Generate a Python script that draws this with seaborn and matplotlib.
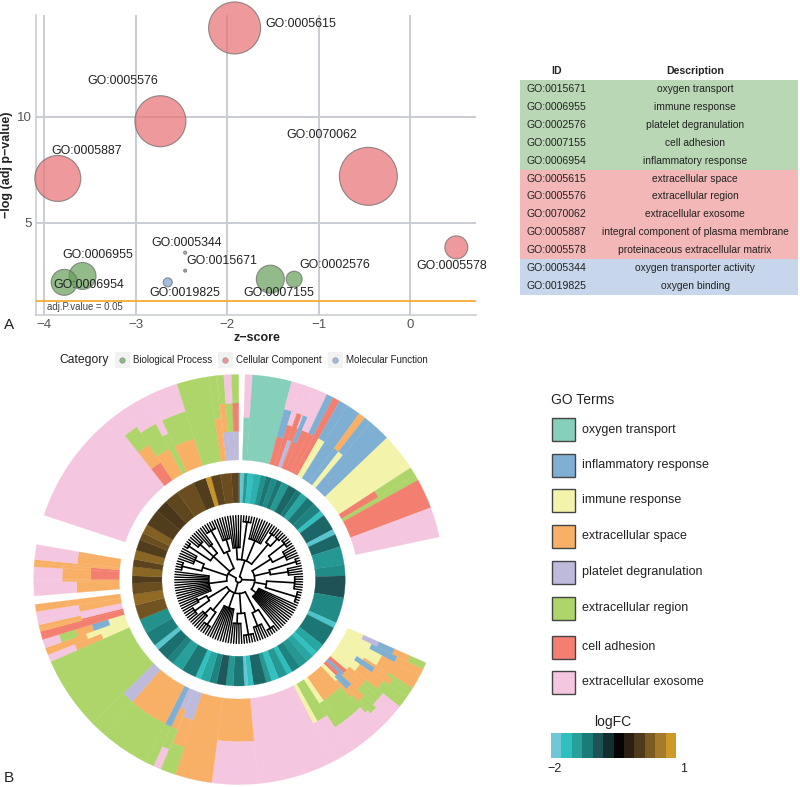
import numpy as np
import pandas as pd
import matplotlib
matplotlib.use("Agg")
import matplotlib.pyplot as plt
from matplotlib.colors import LinearSegmentedColormap, Normalize
from matplotlib.patches import Rectangle
import seaborn as sns

# panel A bubbles
go_ids = ["GO:0005615", "GO:0005576", "GO:0005887", "GO:0070062", "GO:0005578", "GO:0006955",
          "GO:0006954", "GO:0005344", "GO:0015671", "GO:0019825", "GO:0007155", "GO:0002576"]
zscore = [-1.92, -2.73, -3.85, -0.46, 0.50, -3.58, -3.78, -2.46, -2.46, -2.65, -1.53, -1.27]
logp = [14.2, 9.8, 7.1, 7.2, 3.85, 2.5, 2.2, 3.6, 2.75, 2.2, 2.35, 2.35]
bubble_r = [26, 25.5, 23, 29, 11.5, 13.5, 13, 1.5, 1.5, 4.5, 14, 8]
go_cat = ["Cellular Component"] * 5 + ["Biological Process"] * 2 + ["Molecular Function"] + \
         ["Biological Process"] + ["Molecular Function"] + ["Biological Process"] * 2
cat_colors = {"Biological Process": "#659F59", "Cellular Component": "#E86F72", "Molecular Function": "#7CA1D3"}

# table
table_ids = ["GO:0015671", "GO:0006955", "GO:0002576", "GO:0007155", "GO:0006954", "GO:0005615",
             "GO:0005576", "GO:0070062", "GO:0005887", "GO:0005578", "GO:0005344", "GO:0019825"]
table_desc = ["oxygen transport", "immune response", "platelet degranulation", "cell adhesion",
              "inflammatory response", "extracellular space", "extracellular region", "extracellular exosome",
              "integral component of plasma membrane", "proteinaceous extracellular matrix",
              "oxygen transporter activity", "oxygen binding"]
table_fill = ["#BAD7B5"] * 5 + ["#F4B7B7"] * 5 + ["#C7D6EA"] * 2

# panel B terms
term_codes = ["O", "I", "Y", "S", "P", "R", "A", "E"]
term_names = ["oxygen transport", "inflammatory response", "immune response", "extracellular space",
              "platelet degranulation", "extracellular region", "cell adhesion", "extracellular exosome"]
term_colors = ["#86CFBB", "#7FAFD2", "#F3F3AB", "#F7B066", "#BDBADB", "#ADD56A", "#F27F70", "#F5C6DF"]

# outer ring, clockwise from the top: start deg, end deg, terms stacked inner to outer
outer_columns = [
    (1.8, 3.9, "OE"), (3.9, 15, "O"), (15, 17.5, "AIE"), (17.5, 19.3, "AE"), (19.3, 21, "PAE"),
    (21, 21.5, "AE"), (21.5, 23, "AIE"), (23, 25.5, "AE"), (25.5, 27.5, "AI"), (27.5, 29.5, "A"),
    (29.5, 32, "YI"), (32, 36, "I"), (36, 38, "IS"), (38, 40, "YI"), (40, 46.3, "I"), (46.3, 57, "Y"),
    (57, 59.5, "AR"), (59.5, 61, "R"), (61, 69.5, "A"), (69.5, 78, "E"),
    (114, 116, "YPISR"), (116, 118, "YIS"), (118, 122, "YS"), (122, 123, "YSR"), (123, 125, "YISR"),
    (125, 128.3, "YSR"), (128.3, 130, "YSRE"), (130, 131.7, "ASRE"), (131.7, 133, "ISRE"),
    (133, 134.7, "AISRE"), (134.7, 135.5, "YISRE"), (135.5, 136.5, "YSRE"), (136.5, 145, "SRE"),
    (145, 147, "YRE"), (147, 151, "RE"), (151, 152.7, "YE"), (152.7, 174.6, "E"), (174.6, 187.6, "SE"),
    (187.6, 198, "S"), (198, 202, "PSR"), (202, 202.4, "PSRR"), (202.4, 204.6, "PSRE"), (204.6, 207, "IR"),
    (207, 221, "SR"), (221, 225.4, "PR"), (225.4, 246.4, "R"), (246.4, 248.5, "YSE"), (248.5, 250.5, "YS"),
    (250.5, 253, "YISRE"), (253, 255.3, "A"), (255.3, 256, "AS"), (256, 257.2, "ES"), (257.2, 258.6, "E"),
    (258.6, 261, "SE"), (261, 263, "S"),
    (265.4, 269.3, "SE"), (269.3, 270, "SSE"), (270, 273.6, "ASE"), (273.6, 274.6, "ASS"),
    (274.6, 275.6, "S"), (275.6, 279.8, "SE"),
    (288.3, 321.7, "E"), (321.7, 326.3, "ASRE"), (326.3, 332, "SRE"), (332, 334.3, "RE"),
    (334.3, 342.5, "SRE"), (342.5, 351.5, "R"), (351.5, 353.6, "SR"), (353.6, 354, "SSR"),
    (354, 355.8, "PSR"), (355.8, 358, "PRE"), (358, 360, "PAR"),
]

# logFC ring, clockwise from the top: end deg of each run and its logFC
ring_ends = [1, 3, 5, 8, 12, 15, 18, 21, 24, 28, 33, 36, 40, 45, 50, 53, 62, 65, 72, 82, 88, 100, 114, 117,
             128, 133, 136, 140, 145, 150, 153, 158, 162, 165, 172, 175, 177, 183, 187, 192, 196, 201, 204,
             212, 218, 222, 229, 232, 240, 248, 256, 262, 268, 272, 277, 281, 286, 292, 296, 301, 310, 317,
             325, 335, 342, 345, 350, 356, 360]
ring_logfc = [-1.4, -1.95, -1.4, -1.75, -1.6, -1.35, -1.15, -1.3, -1.15, -1.4, -1.05, -1.15, -1.5, -1.15, -1.25,
              -1.75, -1.05, -1.9, -1.05, -1.4, -1.3, -0.9, -1.3, -1.85, -1.15, -1.5, -1.75, -1.5, -1.4, -1.25,
              -1.7, -1.4, -1.75, -1.4, -1.05, -1.75, -1.95, -1.15, -1.4, -0.95, -1.25, -1.5, -1.75, -1.15, -1.45,
              -1.25, -1.1, -1.9, -1.2, -1.35, 0.4, 0.6, 0.35, 0.2, 0.55, 0.25, 0.55, 0.2, 0.35, 0.5, 0.2, 0.15,
              0.28, 0.35, 0.2, 0.95, 0.25, 0.35, 0.25]

logfc_colors = ["#6FC8D6", "#2EBFBF", "#27A09A", "#1B7A78", "#1F5256", "#132E2E",
                "#050505", "#2A1F12", "#4E3A1C", "#7A5A22", "#A57A2A", "#CD9A28"]
logfc_steps = [-2.0, -1.73, -1.45, -1.18, -0.91, -0.64, -0.36, -0.09, 0.18, 0.45, 0.73, 1.0]

# dendrogram: (merge radius, children), a plain number is that many leaves
tree = (3, [
    (20, [(32, [6]), (58, [4]), (42, [8]), (46, [(56, [3]), (56, [3])])]),
    (16, [(38, [(58, [4]), (52, [5])]), (32, [(60, [3]), (50, [4])]), (28, [(56, [6]), (60, [5])]), (22, [12])]),
    (14, [(36, [(58, [4]), (50, [5])]), (34, [(56, [5]), (44, [5])]), (30, [9]),
          (40, [(55, [4]), (48, [4])]), (36, [(54, [4]), (46, [3])])]),
    (12, [(30, [13]), (38, [(58, [4]), (48, [5])]), (34, [(60, [3]), (52, [4]), (44, [3])]),
          (30, [(56, [5]), (42, [5])])]),
])
tree_leaves = 148

sns.set_theme(style="whitegrid")
plt.rcParams["font.family"] = ["Liberation Sans", "DejaVu Sans"]

W, H = 800, 787
fig = plt.figure(figsize=(8, 7.87), dpi=100)


def px_axes(left, top, right, bottom, **kw):
    return fig.add_axes([left / W, 1 - bottom / H, (right - left) / W, (bottom - top) / H], **kw)


# panel A
ax = px_axes(36, 15, 476, 315)
df = pd.DataFrame({"z": zscore, "logp": logp, "cat": go_cat,
                   "s": [(r * 1.44) ** 2 for r in bubble_r]})
sns.scatterplot(data=df, x="z", y="logp", hue="cat", palette=cat_colors, size="s",
                sizes=(df["s"].min(), df["s"].max()), size_norm=(df["s"].min(), df["s"].max()),
                alpha=0.7, edgecolor="#666666", linewidth=0.8, legend=False, clip_on=False, zorder=3, ax=ax)
ax.axhline(1.3, color="#F5A623", lw=1.2, zorder=4)
ax.set_xlim(-4.088, 0.715)
ax.set_ylim(0.66, 14.81)
ax.set_xticks([-4, -3, -2, -1, 0], ["−4", "−3", "−2", "−1", "0"])
ax.set_yticks([5, 10])
ax.grid(True, color="#C9CDD3", lw=1.4)
ax.set_facecolor("none")
ax.tick_params(colors="#555555", labelsize=9.5, length=0, pad=3)
ax.set_xlabel("")
ax.set_ylabel("")
for side in ["top", "right"]:
    ax.spines[side].set_visible(False)
for side in ["left", "bottom"]:
    ax.spines[side].set_color("#C9CDD3")
    ax.spines[side].set_linewidth(1.2)

# table
ax_t = px_axes(520, 80, 798, 295)
ax_t.barh(range(len(table_ids)), 1, height=1, color=table_fill, linewidth=0)
ax_t.set_xlim(0, 1)
ax_t.set_ylim(len(table_ids) - 0.5, -0.5)
ax_t.axis("off")
for i, (go, desc) in enumerate(zip(table_ids, table_desc)):
    ax_t.text(0.022, i, go, ha="left", va="center", fontsize=7.6, color="#222222")
    ax_t.text(0.63, i, desc, ha="center", va="center", fontsize=7.4, color="#222222")

# circular plot, radii in pixels
ax_c = px_axes(238.7 - 205, 579.5 - 205, 238.7 + 205, 579.5 + 205, projection="polar")
ax_c.set_theta_zero_location("N")
ax_c.set_theta_direction(-1)
ax_c.set_ylim(0, 205)
ax_c.axis("off")

OUT_IN, OUT_OUT = 119.5, 205
term_color = dict(zip(term_codes, term_colors))
for start, end, stack in outer_columns:
    part = (OUT_OUT - OUT_IN) / len(stack)
    for k, code in enumerate(stack):
        ax_c.bar(np.deg2rad((start + end) / 2), part, width=np.deg2rad(end - start), bottom=OUT_IN + k * part,
                 color=term_color[code], edgecolor=term_color[code], linewidth=0.2, clip_on=False)

cmap = LinearSegmentedColormap.from_list("logfc", logfc_colors)
norm = Normalize(-2, 1)
prev = 0
for end, val in zip(ring_ends, ring_logfc):
    ax_c.bar(np.deg2rad((prev + end) / 2), 106.5 - 76.8, width=np.deg2rad(end - prev), bottom=76.8,
             color=cmap(norm(val)), edgecolor=cmap(norm(val)), linewidth=0.2)
    prev = end

TREE_R = 64
leaf_step = 2 * np.pi / tree_leaves
leaf_at = [np.deg2rad(-10)]


def draw_clade(node):
    r, kids = node
    mids = []
    for kid in kids:
        if isinstance(kid, int):
            for _ in range(kid):
                theta = leaf_at[0]
                leaf_at[0] += leaf_step
                ax_c.plot([theta, theta], [r, TREE_R], color="black", lw=1.0)
                mids.append(theta)
        else:
            mid, kid_r = draw_clade(kid)
            ax_c.plot([mid, mid], [r, kid_r], color="black", lw=1.2)
            mids.append(mid)
    ax_c.plot(np.linspace(min(mids), max(mids), 40), [r] * 40, color="black", lw=1.2)
    return (min(mids) + max(mids)) / 2, r


draw_clade(tree)
ax_c.set_ylim(0, 205)

# colour key for logFC
ax_k = px_axes(551, 733, 676, 758)
sns.heatmap([logfc_steps], cmap=cmap, vmin=-2, vmax=1, cbar=False, xticklabels=False, yticklabels=False, ax=ax_k)

# overlay in pixel coordinates for legends and labels
px = fig.add_axes([0, 0, 1, 1])
px.set_xlim(0, W)
px.set_ylim(H, 0)
px.axis("off")
px.patch.set_alpha(0)

label_pos = {"GO:0005615": (265, 24), "GO:0005576": (87, 81), "GO:0005887": (51, 151), "GO:0070062": (286, 135),
             "GO:0005578": (416, 266), "GO:0006955": (62, 255), "GO:0006954": (53, 285), "GO:0005344": (151, 243),
             "GO:0015671": (186, 261), "GO:0019825": (149, 293), "GO:0007155": (243, 293), "GO:0002576": (299, 265)}
for go, (x, y) in label_pos.items():
    px.text(x, y, go, ha="left", va="center", fontsize=8.9, color="#222222")

px.text(47, 307, "adj.P.value = 0.05", ha="left", va="center", fontsize=6.95, color="#444444")
px.text(257, 338, "z−score", ha="center", va="center", fontsize=9, fontweight="bold", color="#222222")
px.text(7, 165, "−log (adj p−value)", ha="center", va="center", rotation=90, fontsize=9, fontweight="bold", color="#222222")
px.text(4, 325, "A", ha="left", va="center", fontsize=11, color="#222222")
px.text(4, 778, "B", ha="left", va="center", fontsize=11, color="#222222")

px.text(556.7, 71, "ID", ha="center", va="center", fontsize=7.6, fontweight="bold", color="#222222")
px.text(695, 71, "Description", ha="center", va="center", fontsize=7.6, fontweight="bold", color="#222222")

px.text(59, 360, "Category", ha="left", va="center", fontsize=8.7, color="#222222")
for key_x, name in zip([122, 225, 335], cat_colors):
    px.add_patch(Rectangle((key_x - 7.5, 352), 15, 16, facecolor="#F2F2F2", edgecolor="none"))
    px.plot([key_x], [360], "o", ms=4, color=cat_colors[name], alpha=0.7, mec="#777777", mew=0.4)
    px.text(key_x + 11, 360, name, ha="left", va="center", fontsize=7.05, color="#222222")

px.text(551, 400.5, "GO Terms", ha="left", va="center", fontsize=10, color="#222222")
swatch_y = [429.5, 465, 500.5, 536, 572, 608, 647, 682]
for y, name, color in zip(swatch_y, term_names, term_colors):
    px.add_patch(Rectangle((551.5, y - 11.5), 23, 23, facecolor=color, edgecolor="#444444", lw=1))
    px.text(582, y, name, ha="left", va="center", fontsize=9, color="#222222")

px.text(613, 722, "logFC", ha="center", va="center", fontsize=10, color="#222222")
px.text(555, 769, "−2", ha="center", va="center", fontsize=9, color="#222222")
px.text(684, 769, "1", ha="center", va="center", fontsize=9, color="#222222")

fig.savefig("out.png", dpi=100)
